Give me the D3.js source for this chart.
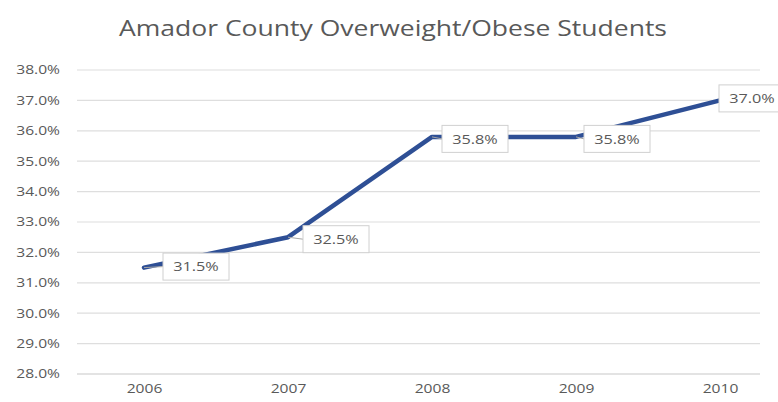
<!DOCTYPE html>
<html>
<head>
<meta charset="utf-8">
<script src="https://cdn.jsdelivr.net/npm/d3@7"></script>
<style>
  html, body { margin: 0; padding: 0; background: #ffffff; }
  svg { display: block; }
</style>
</head>
<body>
<svg id="chart" width="778" height="402"></svg>
<script>
// Amador County share of overweight/obese students, by year
const years = ["2006", "2007", "2008", "2009", "2010"];
const rates = [31.5, 32.5, 35.8, 35.8, 37.0];
const yTicks = [28, 29, 30, 31, 32, 33, 34, 35, 36, 37, 38];
const titleText = "Amador County Overweight/Obese Students";

const svg = d3.select("#chart");
const font = "'Open Sans', Lato, sans-serif";
const textColor = "#595959";
const wide = 1.3; // horizontal widening applied to the text glyphs

// widen each text element by a factor, keeping its anchor
function widen(sel, factor) {
  sel.each(function () {
    const len = this.getComputedTextLength();
    d3.select(this)
      .attr("textLength", len * factor)
      .attr("lengthAdjust", "spacingAndGlyphs");
  });
}

const plot = { left: 77, right: 760, top: 70, bottom: 374 };

const x = d3.scalePoint().domain(years).range([144, 720]);
const y = d3.scaleLinear().domain([28, 38]).range([plot.bottom, plot.top]);

// title
const title = svg.append("text")
  .attr("x", 393).attr("y", 36)
  .attr("text-anchor", "middle")
  .attr("font-family", font)
  .attr("font-size", 21)
  .attr("fill", textColor)
  .text(titleText);
{
  const len = title.node().getComputedTextLength();
  title.attr("textLength", 548).attr("lengthAdjust", "spacingAndGlyphs");
}

// horizontal gridlines
svg.append("g")
  .selectAll("line")
  .data(yTicks)
  .join("line")
  .attr("x1", plot.left).attr("x2", plot.right)
  .attr("y1", d => y(d)).attr("y2", d => y(d))
  .attr("stroke", d => d === 28 ? "#c8c8c8" : "#dedede")
  .attr("stroke-width", 1.2);

// y axis labels
const yAxis = d3.axisLeft(y)
  .tickValues(yTicks)
  .tickFormat(d => d.toFixed(1) + "%")
  .tickSize(0)
  .tickPadding(0);
const gy = svg.append("g").attr("transform", `translate(${60},0)`).call(yAxis);
gy.select(".domain").remove();
gy.selectAll("text")
  .attr("font-family", font)
  .attr("font-size", 12)
  .attr("fill", textColor)
  .call(widen, wide);

// x axis labels
const xAxis = d3.axisBottom(x).tickSize(0).tickPadding(0);
const gx = svg.append("g").attr("transform", `translate(0,${384})`).call(xAxis);
gx.select(".domain").remove();
gx.selectAll("text")
  .attr("font-family", font)
  .attr("font-size", 12)
  .attr("fill", textColor)
  .call(widen, wide);

// data line
const pts = years.map((yr, i) => ({ yr, v: rates[i] }));
svg.append("path")
  .datum(pts)
  .attr("d", d3.line().x(d => x(d.yr)).y(d => y(d.v)))
  .attr("fill", "none")
  .attr("stroke", "#2e4f95")
  .attr("stroke-width", 4.5)
  .attr("stroke-linejoin", "round")
  .attr("stroke-linecap", "round");

// callout labels: offset from each point (dx to box left, dy to box center)
const offsets = [
  { dx: 19, dy: -1 },
  { dx: 15, dy: 2 },
  { dx: 10, dy: 2 },
  { dx: 8, dy: 2 },
  { dx: -1, dy: -2 }
];
const boxW = 66, boxH = 27;

const labels = svg.append("g")
  .selectAll("g")
  .data(pts)
  .join("g")
  .attr("transform", (d, i) => `translate(${x(d.yr) + offsets[i].dx},${y(d.v) + offsets[i].dy})`);

// leader line from point to box
labels.append("line")
  .attr("x1", (d, i) => -offsets[i].dx)
  .attr("y1", (d, i) => -offsets[i].dy)
  .attr("x2", 0)
  .attr("y2", 0)
  .attr("stroke", "#a6a6a6")
  .attr("stroke-width", 1);

labels.append("rect")
  .attr("x", 0).attr("y", -boxH / 2)
  .attr("width", boxW).attr("height", boxH)
  .attr("fill", "#ffffff")
  .attr("stroke", "#d0d0d0")
  .attr("stroke-width", 1);

labels.append("text")
  .attr("x", boxW / 2).attr("y", 0)
  .attr("dy", "0.36em")
  .attr("text-anchor", "middle")
  .attr("font-family", font)
  .attr("font-size", 13)
  .attr("fill", textColor)
  .text(d => d.v.toFixed(1) + "%")
  .call(widen, 1.25);
</script>
</body>
</html>
